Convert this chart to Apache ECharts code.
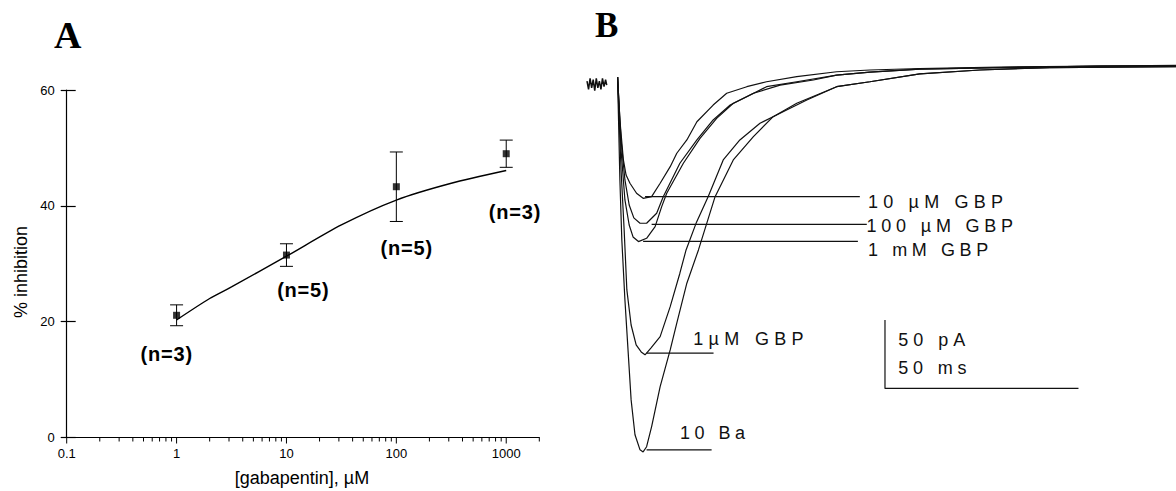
<!DOCTYPE html>
<html><head><meta charset="utf-8">
<script src="https://cdn.jsdelivr.net/npm/echarts@6/dist/echarts.min.js"></script>
<style>html,body{margin:0;padding:0;background:#fff}#c{width:1176px;height:491px}</style>
</head><body><div id="c"></div>
<script>
// ---------- Panel A data ----------
const concentrations = [1, 10, 100, 1000];           // µM
const inhibitionMean = [21.1, 31.5, 43.3, 49.0];     // %
const inhibitionSem  = [1.8, 1.95, 6.0, 2.35];       // %
const nLabels = ['(n=3)', '(n=5)', '(n=5)', '(n=3)'];
const fitConc  = [1, 2, 3.16, 10, 31.6, 100, 316, 1000];
const fitInhib = [20.3, 24.0, 26.0, 31.3, 36.7, 41.0, 43.9, 46.1];
const xTickLabels = ['0.1', '1', '10', '100', '1000'];
const xAxisEnd = 2000;
const yTickLabels = [0, 20, 40, 60];

// ---------- Panel B data: [time ms, current pA] ----------
const holdingStub = [[0,-11],[0.4,-17],[0.8,-9],[1.2,-16],[1.6,-10],[2,-18],[2.4,-9],[2.8,-16],[3.2,-11],[3.6,-17],[4,-9],[4.4,-15],[4.8,-10],[5.1,-14]];
const trace10Ba = [[7.9,-8],[8.5,-83.2],[9.0,-127],[9.8,-170.8],[10.6,-207.3],[11.4,-243.8],[12.4,-269.3],[13.7,-280.3],[14.5,-281.8],[15.4,-278],[16.7,-263.3],[18.9,-234.1],[21.5,-207.3],[23.2,-187.8],[25.8,-158.6],[28.8,-134.3],[33.1,-95.4],[37.8,-68.6],[43.0,-51.6],[48.1,-37.0],[54.2,-27.2],[64.5,-15.1],[73.1,-11.5],[86.0,-5.8],[101.5,-2.9],[119.6,-1.1],[152.2,-0.4]];
const trace1uM = [[7.9,-8],[8.8,-75.9],[9.6,-119.7],[10.3,-163.5],[11.4,-189.1],[12.7,-203.6],[14.0,-208.8],[15.0,-210.9],[16.5,-206],[18.9,-197.6],[21.5,-175.7],[24.0,-151.3],[25.6,-134.3],[28.3,-114],[31.3,-95.4],[35.2,-68.6],[39.5,-54.0],[44.7,-41.8],[49.9,-34.5],[56.8,-24.8],[64.5,-15.1],[73.1,-11.5],[86.0,-5.8],[101.5,-2.9],[119.6,-1.1],[152.2,-0.4]];
const trace10uM = [[7.9,-8],[8.5,-39.4],[9.4,-68.6],[10.1,-79.6],[11.1,-85.6],[12.8,-92.9],[14.5,-96.6],[16.7,-95.4],[18.9,-85.6],[21.5,-73.5],[23.2,-63.7],[25.8,-54.0],[28.4,-40.7],[32.6,-28.5],[36.1,-19.9],[41.3,-15.1],[46.4,-11.5],[54.2,-7.8],[64.5,-4.2],[73.1,-2.9],[86.0,-1.8],[106.7,-0.7],[132.6,0],[152.2,0.4]];
const trace100uM = [[7.9,-8],[8.8,-54.0],[9.8,-83.2],[10.9,-101.5],[12.1,-110.9],[13.7,-114.8],[15.4,-114.8],[18.0,-107.5],[19.7,-95.4],[24.0,-71.0],[28.4,-54.0],[32.6,-39.4],[37.0,-28.5],[41.3,-22.4],[46.4,-15.1],[54.2,-11.5],[64.5,-6.6],[73.1,-4.4],[86.0,-2.2],[106.7,-1.1],[132.6,-0.1],[152.2,0.2]];
const trace1mM = [[7.9,-8],[8.8,-61.3],[9.8,-97.8],[10.9,-116.1],[11.9,-124.8],[13.3,-128.2],[15.4,-125.8],[17.6,-117.3],[19.3,-102.7],[20.6,-92.9],[24.9,-71.0],[29.2,-52.8],[33.5,-38.2],[37.8,-27.2],[43.0,-19.9],[49.9,-13.9],[58.5,-10.2],[64.5,-6.6],[73.1,-4.4],[86.0,-2.2],[106.7,-1.1],[132.6,-0.1],[152.2,0.2]];
// peak-marker lines and scale bar (ms, pA)
const line10uM  = [[15.0,-95.3],[70.5,-95.3]];
const line100uM = [[16.7,-115.7],[72.3,-115.7]];
const line1mM   = [[14.5,-128.1],[70.0,-128.1]];
const line1uM   = [[15.4,-209.7],[32.7,-209.7]];
const line10Ba  = [[15.4,-280.3],[32.2,-280.3]];
const scaleBar  = [[77.0,-185.4],[77.0,-235.4],[127.0,-235.4]];

// ---------- build ----------
const majorTicks = xTickLabels.map(Number);
const tickData = [];
majorTicks.forEach((d, i) => {
  tickData.push([d, 6]);
  const limit = i < majorTicks.length - 1 ? 9 : 2;
  for (let k = 2; k <= limit; k++) {
    const v = Number((k * d).toPrecision(4));
    if (v <= xAxisEnd) tickData.push([v, 4]);
  }
});

const FONT = '"Liberation Sans", Arial, sans-serif';
const SERIF = '"Liberation Serif", "Times New Roman", serif';

function traceSeries(name, data) {
  return { name, type: 'line', xAxisIndex: 1, yAxisIndex: 2, data, showSymbol: false,
    lineStyle: { color: '#111', width: 1.2 }, z: 3, silent: true };
}
function plainLine(name, data) {
  return { name, type: 'line', xAxisIndex: 1, yAxisIndex: 2, data, showSymbol: false,
    lineStyle: { color: '#111', width: 1.2 }, z: 4, silent: true };
}

const option = {
  animation: false,
  backgroundColor: '#fff',
  grid: [
    { left: 66.7, top: 90, width: 472.6, height: 347.5 },
    { left: 587, top: 40, width: 589, height: 430 }
  ],
  xAxis: [
    { gridIndex: 0, type: 'log', logBase: 10, min: Number(xTickLabels[0]), max: xAxisEnd,
      axisLine: { show: true, lineStyle: { color: '#000', width: 1.2 } },
      axisTick: { show: false }, splitLine: { show: false }, minorTick: { show: false },
      axisLabel: { color: '#000', fontSize: 13, fontFamily: FONT, margin: 9,
        formatter: v => { const s = String(Number(Number(v).toPrecision(6))); return xTickLabels.includes(s) ? s : ''; } } },
    { gridIndex: 1, type: 'value', min: 0, max: 152.2, show: false }
  ],
  yAxis: [
    { gridIndex: 0, type: 'value', min: 0, max: 60, interval: 20,
      axisLine: { show: true, lineStyle: { color: '#000', width: 1.2 } },
      axisTick: { show: true, length: 6, lineStyle: { color: '#000', width: 1.2 } },
      splitLine: { show: false },
      axisLabel: { color: '#000', fontSize: 13, fontFamily: FONT, margin: 12,
        formatter: v => yTickLabels.includes(v) ? String(v) : '' } },
    { gridIndex: 0, type: 'value', min: 0, max: 60, interval: 20, position: 'left',
      axisLine: { show: false }, axisLabel: { show: false }, splitLine: { show: false },
      axisTick: { show: true, inside: true, length: 9, lineStyle: { color: '#000', width: 1.2 } } },
    { gridIndex: 1, type: 'value', min: -295, max: 19, show: false }
  ],
  series: [
    { name: 'xticks', type: 'custom', xAxisIndex: 0, yAxisIndex: 0, data: tickData, clip: false, silent: true,
      renderItem: (params, api) => {
        const p = api.coord([api.value(0), 0]);
        return { type: 'line', shape: { x1: p[0], y1: p[1], x2: p[0], y2: p[1] + api.value(1) },
          style: { stroke: '#000', lineWidth: 1 } };
      } },
    { name: 'fit', type: 'line', xAxisIndex: 0, yAxisIndex: 0,
      data: fitConc.map((c, i) => [c, fitInhib[i]]), smooth: 0.25, showSymbol: false,
      lineStyle: { color: '#000', width: 1.4 }, z: 2, silent: true },
    { name: 'sem', type: 'custom', xAxisIndex: 0, yAxisIndex: 0, silent: true, z: 3,
      data: concentrations.map((c, i) => [c, inhibitionMean[i], inhibitionSem[i]]),
      renderItem: (params, api) => {
        const x = api.value(0), m = api.value(1), s = api.value(2);
        const top = api.coord([x, m + s]), bot = api.coord([x, m - s]);
        const w = 6.5, st = { stroke: '#000', lineWidth: 1 };
        return { type: 'group', children: [
          { type: 'line', shape: { x1: top[0], y1: top[1], x2: bot[0], y2: bot[1] }, style: st },
          { type: 'line', shape: { x1: top[0] - w, y1: top[1], x2: top[0] + w, y2: top[1] }, style: st },
          { type: 'line', shape: { x1: bot[0] - w, y1: bot[1], x2: bot[0] + w, y2: bot[1] }, style: st }
        ] };
      } },
    { name: 'mean', type: 'scatter', xAxisIndex: 0, yAxisIndex: 0, symbol: 'rect', symbolSize: 7,
      itemStyle: { color: '#000' }, z: 5, silent: true,
      data: concentrations.map((c, i) => [c, inhibitionMean[i]]) },

    { name: 'holding', type: 'line', xAxisIndex: 1, yAxisIndex: 2, data: holdingStub, showSymbol: false,
      lineStyle: { color: '#111', width: 1.5 }, silent: true },
    traceSeries('10 Ba', trace10Ba),
    traceSeries('1µM GBP', trace1uM),
    traceSeries('10 µM GBP', trace10uM),
    traceSeries('100 µM GBP', trace100uM),
    traceSeries('1 mM GBP', trace1mM),
    plainLine('m10uM', line10uM),
    plainLine('m100uM', line100uM),
    plainLine('m1mM', line1mM),
    plainLine('m1uM', line1uM),
    plainLine('m10Ba', line10Ba),
    plainLine('scale', scaleBar)
  ],
  graphic: [
    { type: 'text', x: 54, y: 35, style: { text: 'A', font: 'bold 38px ' + SERIF, fill: '#000', textAlign: 'left', textVerticalAlign: 'middle', align: 'left', verticalAlign: 'middle' } },
    { type: 'text', x: 595, y: 25, style: { text: 'B', font: 'bold 35px ' + SERIF, fill: '#000', textAlign: 'left', textVerticalAlign: 'middle', align: 'left', verticalAlign: 'middle' } },
    { type: 'text', x: 20.5, y: 272, rotation: Math.PI / 2, style: { text: '% inhibition', font: '18px ' + FONT, fill: '#000', textAlign: 'center', textVerticalAlign: 'middle', align: 'center', verticalAlign: 'middle' } },
    { type: 'text', x: 302, y: 478, style: { text: '[gabapentin], µM', font: '18px ' + FONT, fill: '#000', textAlign: 'center', textVerticalAlign: 'middle', align: 'center', verticalAlign: 'middle' } },
    ...[[166.7, 354.3], [303.3, 290], [406.7, 248.3], [515, 211.7]].map((p, i) => (
      { type: 'text', x: p[0], y: p[1], style: { text: nLabels[i], font: 'bold 20px ' + FONT, fill: '#000', textAlign: 'center', textVerticalAlign: 'middle', align: 'center', verticalAlign: 'middle' } })),
    ...[['10 µM GBP', 868, 201.5], ['100 µM GBP', 866.5, 226], ['1 mM GBP', 868, 250], ['1µM GBP', 693.3, 339.3],
        ['10 Ba', 680, 433.3], ['50 pA', 898.3, 340], ['50 ms', 898.3, 368.3]].map(t => (
      { type: 'text', x: t[1], y: t[2], style: { text: t[0], font: '18px ' + FONT, fill: '#111', textAlign: 'left', textVerticalAlign: 'middle', align: 'left', verticalAlign: 'middle' } }))
  ]
};

const chart = echarts.init(document.getElementById('c'), null, { renderer: 'svg', width: 1176, height: 491 });
chart.setOption(option);
const spacing = { '10 µM GBP': 5.2, '100 µM GBP': 4.8, '1 mM GBP': 4.6, '1µM GBP': 5.3, '10 Ba': 4.5, '50 pA': 5, '50 ms': 4.8, '(n=3)': 0.8, '(n=5)': 0.8 };
function applySpacing() {
  document.querySelectorAll('#c text').forEach(t => {
    const s = spacing[t.textContent];
    if (s !== undefined) t.style.letterSpacing = s + 'px';
  });
}
chart.on('finished', applySpacing);
applySpacing();
setTimeout(applySpacing, 30);
</script></body></html>
